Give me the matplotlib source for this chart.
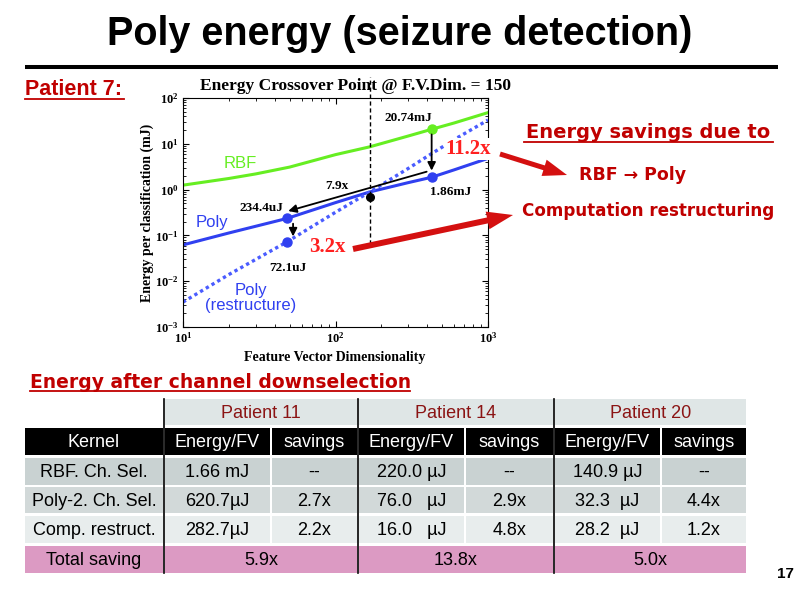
import matplotlib
matplotlib.use('agg')
import matplotlib.pyplot as plt
import matplotlib.ticker as tick
from matplotlib.patches import Rectangle, FancyArrow

plt.rcParams['axes.unicode_minus'] = False

# ---- chart data ----
fv_dim = [10, 20, 30, 50, 100, 168, 300, 427, 600, 1000]
rbf_mj = [1.25, 1.75, 2.2, 3.1, 5.8, 8.6, 14.8, 20.74, 28.5, 48]
poly_dim = [10, 20, 48, 100, 168, 300, 427, 600, 1000]
poly_mj = [0.062, 0.113, 0.2344, 0.52, 0.89, 1.42, 1.86, 2.7, 4.8]
restr_dim = [10, 20, 48, 100, 168, 300, 427, 623, 1000]
restr_mj = [0.0035, 0.014, 0.0721, 0.32, 0.89, 2.9, 6.1, 13.3, 33]
crossover_dim = 168
crossover_mj = 0.69
mark_dim = [427, 427, 48, 48]
mark_mj = [20.74, 1.86, 0.2344, 0.0721]
mark_lbl = ['20.74mJ', '1.86mJ', '234.4uJ', '72.1uJ']

# ---- table data ----
patients = ['Patient 11', 'Patient 14', 'Patient 20']
col_heads = ['Kernel', 'Energy/FV', 'savings', 'Energy/FV', 'savings', 'Energy/FV', 'savings']
row_labels = ['RBF. Ch. Sel.', 'Poly-2. Ch. Sel.', 'Comp. restruct.']
energy = [['1.66 mJ', '220.0 µJ', '140.9 µJ'],
          ['620.7µJ', '76.0   µJ', '32.3  µJ'],
          ['282.7µJ', '16.0   µJ', '28.2  µJ']]
savings = [['--', '--', '--'],
           ['2.7x', '2.9x', '4.4x'],
           ['2.2x', '4.8x', '1.2x']]
total = ['5.9x', '13.8x', '5.0x']

SANS = 'Liberation Sans'
WIDE = 'DejaVu Sans'
SERIF = 'Liberation Serif'

DARKRED = '#c00000'
GREEN = '#66ee22'
BLUE = '#3040f0'

fig = plt.figure(figsize=(8, 5.99), dpi=100)

# chart axes, placed in slide pixels
ax = fig.add_axes([183 / 800, 1 - 327 / 599, 305 / 800, 229 / 599])
ax.plot(fv_dim, rbf_mj, color=GREEN, lw=2.2)
ax.plot(poly_dim, poly_mj, color=BLUE, lw=2.2)
ax.plot(restr_dim, restr_mj, color='#4a5cff', lw=2.4, linestyle=(0, (1, 1)))
ax.plot(mark_dim[:1], mark_mj[:1], 'o', color=GREEN, ms=6.5)
ax.plot(mark_dim[1:], mark_mj[1:], 'o', color=BLUE, ms=6.5)
ax.plot([crossover_dim], [crossover_mj], 'o', color='k', ms=5.5)
ax.plot([crossover_dim, crossover_dim], [0.065, 290], color='k', lw=1,
        dashes=(3, 2), clip_on=False)

arrow_kw = dict(arrowstyle='-|>', color='k', lw=1.3, mutation_scale=12,
                shrinkA=0, shrinkB=0)
ax.annotate('', xy=(427, 2.6), xytext=(427, 16), arrowprops=arrow_kw)
ax.annotate('', xy=(49, 0.34), xytext=(396, 2.46), arrowprops=arrow_kw)
ax.annotate('', xy=(52.7, 0.095), xytext=(52.7, 0.18), arrowprops=arrow_kw)

ax.set_xscale('log')
ax.set_yscale('log')
ax.set_xlim(10, 1000)
ax.set_ylim(1e-3, 1e2)
ax.yaxis.set_major_locator(tick.LogLocator(base=10, numticks=10))
ax.tick_params(which='both', direction='in', top=True, right=True)
ax.tick_params(which='major', length=4, pad=3, labelsize=9)
ax.tick_params(which='minor', length=2)
for lab in ax.get_xticklabels() + ax.get_yticklabels():
    lab.set_fontfamily(SERIF)
    lab.set_fontweight('bold')
for s in ax.spines.values():
    s.set_linewidth(0.8)

# overlay in slide pixels (y down)
bg = fig.add_axes([0, 0, 1, 1], zorder=5)
bg.set_xlim(0, 800)
bg.set_ylim(599, 0)
bg.axis('off')
bg.patch.set_alpha(0)


def txt(x, y, s, **kw):
    bg.text(x, y, s, **kw)


# title and rule
txt(400, 45, 'Poly energy (seizure detection)', ha='center', va='baseline',
    fontsize=28.5, fontweight='bold', family=SANS)
bg.plot([25, 778], [66.5, 66.5], color='k', lw=2.9, solid_capstyle='butt')

txt(25, 95, 'Patient 7:', ha='left', va='baseline', fontsize=15.5,
    fontweight='bold', family=SANS, color=DARKRED)
bg.plot([25, 124], [98.5, 98.5], color=DARKRED, lw=1.3)

# chart texts
txt(356, 90, 'Energy Crossover Point @ F.V.Dim. = 150', ha='center', va='baseline',
    fontsize=12.5, fontweight='bold', family=SERIF)
txt(147, 213, 'Energy per classification (mJ)', ha='center', va='center',
    rotation=90, fontsize=10, fontweight='bold', family=SERIF)
txt(335, 358, 'Feature Vector Dimensionality', ha='center', va='center',
    fontsize=10, fontweight='bold', family=SERIF)
lbl_pos = [(408, 118), (451, 192), (261, 208), (288, 268)]
for (px, py), s in zip(lbl_pos, mark_lbl):
    txt(px, py, s, ha='center', va='center', fontsize=9.5, fontweight='bold', family=SERIF)
txt(337, 186, '7.9x', ha='center', va='center', fontsize=9.5, fontweight='bold', family=SERIF)
txt(240, 164, 'RBF', ha='center', va='center', fontsize=12, family=SANS, color=GREEN)
txt(212, 222, 'Poly', ha='center', va='center', fontsize=12, family=SANS, color=BLUE)
txt(251, 298, 'Poly\n(restructure)', ha='center', va='center', fontsize=12,
    family=SANS, color=BLUE, linespacing=1.05)
txt(468, 149, '11.2x', ha='center', va='center', fontsize=15, fontweight='bold',
    family=SERIF, color='#ff2020',
    bbox=dict(facecolor='white', edgecolor='none', pad=0.5))
txt(327, 247, '3.2x', ha='center', va='center', fontsize=15, fontweight='bold',
    family=SERIF, color='#ff2020')

# big red arrows
bg.add_patch(FancyArrow(500, 154, 67, 21, width=5, head_width=17, head_length=24,
                        length_includes_head=True, color='#d41010', lw=0))
bg.add_patch(FancyArrow(353, 249, 160, -34, width=6, head_width=18, head_length=26,
                        length_includes_head=True, color='#d41010', lw=0))

# right side notes
txt(648, 138, 'Energy savings due to', ha='center', va='baseline', fontsize=14,
    fontweight='bold', family=WIDE, color=DARKRED)
bg.plot([524, 773], [141.5, 141.5], color=DARKRED, lw=1.3)
txt(633, 180, 'RBF \u2192 Poly', ha='center', va='baseline', fontsize=12.5,
    fontweight='bold', family=WIDE, color=DARKRED)
txt(648, 216, 'Computation restructuring', ha='center', va='baseline', fontsize=12.1,
    fontweight='bold', family=WIDE, color=DARKRED)

# table section
txt(30, 388, 'Energy after channel downselection', ha='left', va='baseline',
    fontsize=13.5, fontweight='bold', family=WIDE, color=DARKRED)
bg.plot([30, 410], [391, 391], color=DARKRED, lw=1.3)

col_x = [24, 164, 271, 358, 465, 554, 661, 747]
row_y = [(399, 425), (428, 455), (458, 485), (487, 513), (516, 543), (546, 573)]
row_bg = ['#c9d2d2', '#d2d9d9', '#e8eded']
TFS = 13


def cell(x0, x1, yy, color):
    bg.add_patch(Rectangle((x0 + 1, yy[0]), x1 - x0 - 2, yy[1] - yy[0],
                           facecolor=color, edgecolor='none', zorder=1))


def ctext(x0, x1, yy, s, **kw):
    txt((x0 + x1) / 2, (yy[0] + yy[1]) / 2 + 1, s, ha='center', va='center',
        fontsize=TFS, family=SANS, zorder=3, **kw)


for i, p in enumerate(patients):
    x0, x1 = col_x[1 + 2 * i], col_x[3 + 2 * i]
    cell(x0, x1, row_y[0], '#dfe6e6')
    ctext(x0, x1, row_y[0], p, color='#8b1414')
for j, h in enumerate(col_heads):
    cell(col_x[j], col_x[j + 1], row_y[1], 'black')
    ctext(col_x[j], col_x[j + 1], row_y[1], h, color='white')
for r, lab in enumerate(row_labels):
    yy = row_y[2 + r]
    cell(col_x[0], col_x[1], yy, row_bg[r])
    ctext(col_x[0], col_x[1], yy, lab)
    for i in range(3):
        cell(col_x[1 + 2 * i], col_x[2 + 2 * i], yy, row_bg[r])
        ctext(col_x[1 + 2 * i], col_x[2 + 2 * i], yy, energy[r][i])
        cell(col_x[2 + 2 * i], col_x[3 + 2 * i], yy, row_bg[r])
        ctext(col_x[2 + 2 * i], col_x[3 + 2 * i], yy, savings[r][i])
cell(col_x[0], col_x[1], row_y[5], '#dc9ac3')
ctext(col_x[0], col_x[1], row_y[5], 'Total saving')
for i, t in enumerate(total):
    cell(col_x[1 + 2 * i], col_x[3 + 2 * i], row_y[5], '#dc9ac3')
    ctext(col_x[1 + 2 * i], col_x[3 + 2 * i], row_y[5], t)
for xv in [164, 358, 554]:
    bg.plot([xv, xv], [399, 573], color='k', lw=1.2, zorder=2)

txt(785, 578, '17', ha='center', va='baseline', fontsize=11, fontweight='bold',
    family=SANS)

fig.savefig('out.png', dpi=100)
